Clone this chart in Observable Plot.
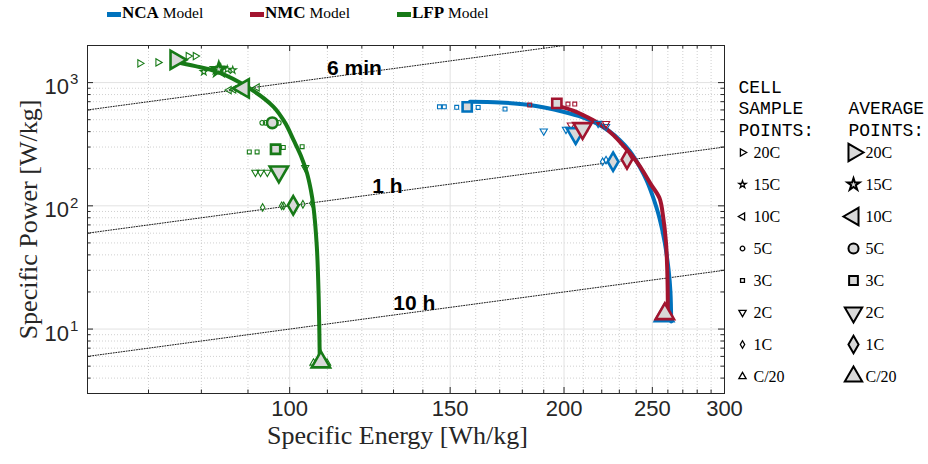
<!DOCTYPE html>
<html>
<head>
<meta charset="utf-8">
<script src="https://cdn.jsdelivr.net/npm/d3@7"></script>
<script src="https://cdn.jsdelivr.net/npm/@observablehq/plot@0.6"></script>
<style>
  body { margin: 0; background: #fff; }
  #wrap { position: relative; width: 928px; height: 464px; overflow: hidden; }
  #toplegend { position: relative; height: 30px; font-family: "Liberation Serif", "Times New Roman", serif; color: #000; }
  .sw { position: absolute; top: 11.5px; width: 14px; height: 5px; }
  .lab { position: absolute; top: 3px; line-height: 20px; white-space: nowrap; }
  .lab b { font-size: 17px; }
  .lab span { font-size: 15.5px; }
  #side { position: absolute; left: 725px; top: 0; }
</style>
</head>
<body>
<div id="wrap">
  <div id="toplegend"></div>
  <div id="main"></div>
  <div id="side"></div>
</div>
<script>
// ---------- categories ----------
const models = ["NCA", "NMC", "LFP"];
const modelColors = ["#0072BD", "#A2142F", "#177A17"];
const legendLeft = [107, 250, 397];

const rates = ["20C", "15C", "10C", "5C", "3C", "2C", "1C", "C/20"];
const rateSymbols = ["triangle", "star", "triangle", "circle", "square", "triangle", "diamond", "triangle"];
const rateRotate = [90, 0, -90, 0, 0, 180, 0, 0];
const sampleR = [2.7, 2.3, 2.7, 2.3, 2.2, 2.7, 2.3, 2.7];
const averageR = [6.8, 4.0, 6.8, 5.3, 5.2, 6.8, 5.6, 6.8];

// ---------- ticks ----------
const xMajor = [100, 150, 200, 250, 300];
const xMinor = [60, 70, 80, 90, 110, 120, 130, 140, 160, 170, 180, 190, 210, 220, 230, 240, 260, 270, 280, 290];
const yMajorExp = [1, 2, 3];
const yMinor = [3, 4, 5, 6, 7, 8, 9, 20, 30, 40, 50, 60, 70, 80, 90, 200, 300, 400, 500, 600, 700, 800, 900, 2000];

// ---------- constant-time lines ----------
const timeLabels = ["6 min", "1 h", "10 h"];
const timeHours = [0.1, 1, 10];
const timeLineE = [60, 300];
const timeLabelE = [109.9, 123.2, 129.9];
const timeLabelP = [1300, 144, 16.2];

// ---------- model curves (E [Wh/kg], P [W/kg]) ----------
const ncaModelE = [157.7, 170, 183.4, 199.6, 210, 217.2, 224, 230.3, 236, 242.2, 246.5, 250.4, 254.5, 258, 260.5, 261.7, 262.2];
const ncaModelP = [699, 690, 657, 580, 520, 466, 405, 341, 280, 207, 160, 118, 80, 50, 30, 20, 11.5];
const nmcModelE = [196.4, 205, 211.7, 220, 226.6, 233, 238, 242.5, 249, 254.6, 257, 258.8, 259.6, 259.9, 260];
const nmcModelP = [650, 590, 528, 450, 375, 300, 250, 207, 150, 115, 80, 50, 30, 20, 14];
const lfpModelE = [74.6, 78.8, 83.3, 89.8, 96.0, 98.9, 101.0, 102.9, 104.5, 105.5, 106.2, 107.1, 107.6, 107.9];
const lfpModelP = [1475, 1361, 1224, 925, 636, 469, 341, 254, 183, 134, 98, 46.5, 18.3, 5.6];

// ---------- cell sample points ----------
const ncaSampleRate = ["3C", "3C", "3C", "3C", "3C", "2C", "2C", "2C", "2C", "1C", "1C"];
const ncaSampleE = [146, 147.8, 152.5, 161, 172.3, 190, 201, 218, 222.4, 220.5, 222.4];
const ncaSampleP = [636, 636, 630, 629, 610, 404, 417, 466, 440, 228, 235];

const nmcSampleRate = ["3C", "3C", "3C", "2C", "2C", "2C", "1C"];
const nmcSampleE = [183.4, 202, 205.5, 203.5, 208, 222.4, 226.4];
const nmcSampleP = [657, 669, 669, 452, 440, 465, 238];

const lfpSampleRate = ["20C", "20C", "20C", "20C", "15C", "15C", "15C", "15C", "15C", "10C", "10C", "10C",
  "5C", "5C", "5C", "3C", "3C", "3C", "3C", "2C", "2C", "2C", "2C", "1C", "1C", "1C", "1C", "1C", "C/20", "C/20"];
const lfpSampleE = [68.5, 71.7, 77.4, 78.8, 80.5, 82.9, 84, 85.4, 86.6, 85.8, 86.8, 92.1,
  93.3, 94.1, 97.3, 90.3, 92.1, 98.4, 103.2, 91.7, 92.9, 94.5, 104, 93.4, 98, 98.5, 103.4, 105.8, 106.2, 109.9];
const lfpSampleP = [1432, 1458, 1640, 1640, 1224, 1247, 1330, 1280, 1263, 869, 880, 914,
  472, 472, 472, 274, 274, 298, 302, 187, 187, 187, 204, 97, 100, 100, 103, 105, 5.3, 5.3];

// ---------- average points ----------
const ncaAvgRate = ["3C", "2C", "1C", "C/20"];
const ncaAvgE = [156.6, 206, 226.4, 257.5];
const ncaAvgP = [636, 387, 228, 12.8];
const nmcAvgRate = ["3C", "2C", "1C", "C/20"];
const nmcAvgE = [196.4, 209.6, 234.5, 258];
const nmcAvgP = [678, 425, 238, 13.3];
const lfpAvgRate = ["20C", "15C", "10C", "5C", "3C", "2C", "1C", "C/20"];
const lfpAvgE = [75, 83.6, 89, 95.7, 96.5, 97.3, 100.9, 108.2];
const lfpAvgP = [1531, 1280, 897, 472, 288, 189, 101, 5.4];

// ---------- build tables ----------
const symbolMap = {triangle: d3.symbolTriangle, star: d3.symbolStar, circle: d3.symbolCircle, square: d3.symbolSquare, diamond: d3.symbolDiamond};
const rateIndex = r => rates.indexOf(r);

const modelE = [ncaModelE, nmcModelE, lfpModelE];
const modelP = [ncaModelP, nmcModelP, lfpModelP];
const curves = models.flatMap((m, i) => modelE[i].map((e, j) => ({model: m, E: e, P: modelP[i][j]})));

function pts(model, rateArr, eArr, pArr, rArr) {
  return rateArr.map((r, j) => {
    const k = rateIndex(r);
    return {model, rate: r, E: eArr[j], P: pArr[j], symbol: symbolMap[rateSymbols[k]], rotate: rateRotate[k], r: rArr[k]};
  });
}
const samples = [
  ...pts("NCA", ncaSampleRate, ncaSampleE, ncaSampleP, sampleR),
  ...pts("NMC", nmcSampleRate, nmcSampleE, nmcSampleP, sampleR),
  ...pts("LFP", lfpSampleRate, lfpSampleE, lfpSampleP, sampleR)
];
const averages = [
  ...pts("NCA", ncaAvgRate, ncaAvgE, ncaAvgP, averageR),
  ...pts("NMC", nmcAvgRate, nmcAvgE, nmcAvgP, averageR),
  ...pts("LFP", lfpAvgRate, lfpAvgE, lfpAvgP, averageR)
];
const timeLines = timeLabels.flatMap((l, i) => timeLineE.map(e => ({label: l, E: e, P: e / timeHours[i]})));
const timeText = timeLabels.map((l, i) => ({label: l, E: timeLabelE[i], P: timeLabelP[i]}));

// ---------- top legend (HTML) ----------
const topLegend = document.getElementById("toplegend");
models.forEach((m, i) => {
  const sw = document.createElement("div");
  sw.className = "sw";
  sw.style.left = legendLeft[i] + "px";
  sw.style.background = modelColors[i];
  topLegend.appendChild(sw);
  const lab = document.createElement("div");
  lab.className = "lab";
  lab.style.left = (legendLeft[i] + 15) + "px";
  lab.innerHTML = `<b>${m}</b><span> Model</span>`;
  topLegend.appendChild(lab);
});

// ---------- main plot ----------
const W = 928, H = 434, mT = 15, mR = 204, mB = 71, mL = 87;
const fW = W - mL - mR, fH = H - mT - mB;
const axisColor = "#262626";
const sans = "'Liberation Sans', Arial, Helvetica, sans-serif";
const serif = "'Liberation Serif', 'Times New Roman', serif";

const mainPlot = Plot.plot({
  width: W, height: H,
  marginTop: mT, marginRight: mR, marginBottom: mB, marginLeft: mL,
  x: {type: "log", domain: [60, 300], axis: null},
  y: {type: "log", domain: [3, 2000], axis: null},
  r: {type: "identity"},
  color: {domain: models, range: modelColors},
  style: {fontFamily: sans, background: "transparent", overflow: "visible"},
  marks: [
    Plot.ruleX(xMinor, {x: d => d, stroke: "#c4c4c4", strokeWidth: 0.8, strokeDasharray: "1,2"}),
    Plot.ruleY(yMinor, {y: d => d, stroke: "#c4c4c4", strokeWidth: 0.8, strokeDasharray: "1,2"}),
    Plot.ruleX(xMajor, {x: d => d, stroke: "#e2e2e2", strokeWidth: 1}),
    Plot.ruleY(yMajorExp, {y: d => 10 ** d, stroke: "#e2e2e2", strokeWidth: 1}),
    Plot.line(timeLines, {x: "E", y: "P", z: "label", stroke: "#000", strokeWidth: 0.9, strokeDasharray: "1,1.6", clip: true}),
    Plot.text(timeText, {x: "E", y: "P", text: "label", textAnchor: "start", fontSize: 21, fontWeight: "bold", fill: "#000"}),
    Plot.line(curves, {x: "E", y: "P", z: "model", stroke: "model", strokeWidth: 4, curve: "catmull-rom"}),
    Plot.dot(samples, {x: "E", y: "P", symbol: "symbol", rotate: "rotate", r: "r", stroke: "model", fill: "none", strokeWidth: 1.1}),
    Plot.dot(averages, {x: "E", y: "P", symbol: "symbol", rotate: "rotate", r: "r", stroke: "model", fill: "#d9d9d9", strokeWidth: 2.6}),
    Plot.frame({stroke: axisColor, strokeWidth: 1}),
    Plot.tickX(xMajor, {x: d => d, insetTop: fH - 6, stroke: axisColor}),
    Plot.tickX(xMajor, {x: d => d, insetBottom: fH - 6, stroke: axisColor}),
    Plot.tickX(xMinor, {x: d => d, insetTop: fH - 3.5, stroke: axisColor}),
    Plot.tickX(xMinor, {x: d => d, insetBottom: fH - 3.5, stroke: axisColor}),
    Plot.tickY(yMajorExp, {y: d => 10 ** d, insetRight: fW - 6, stroke: axisColor}),
    Plot.tickY(yMajorExp, {y: d => 10 ** d, insetLeft: fW - 6, stroke: axisColor}),
    Plot.tickY(yMinor, {y: d => d, insetRight: fW - 3.5, stroke: axisColor}),
    Plot.tickY(yMinor, {y: d => d, insetLeft: fW - 3.5, stroke: axisColor}),
    Plot.text(xMajor, {x: d => d, text: d => String(d), frameAnchor: "bottom", dy: 22, fontSize: 22, fill: "#262626"}),
    Plot.text(yMajorExp, {y: d => 10 ** d, text: () => "10", frameAnchor: "left", textAnchor: "end", dx: -18.5, dy: 4.5, fontSize: 22, fill: "#262626"}),
    Plot.text(yMajorExp, {y: d => 10 ** d, text: d => String(d), frameAnchor: "left", textAnchor: "start", dx: -17.5, dy: -3, fontSize: 15, fill: "#262626"}),
    Plot.text(["Specific Energy [Wh/kg]"], {frameAnchor: "bottom", textAnchor: "middle", dx: -8.5, dy: 50, fontSize: 26, fontFamily: serif, fill: "#262626"}),
    Plot.text(["Specific Power [W/kg]"], {frameAnchor: "left", textAnchor: "middle", dx: -59, rotate: -90, fontSize: 26, fontFamily: serif, fill: "#262626"})
  ]
});
document.getElementById("main").appendChild(mainPlot);

// ---------- side legend ----------
const legRows = rates.map((r, k) => ({rate: r, symbol: symbolMap[rateSymbols[k]], rotate: rateRotate[k], rs: sampleR[k], ra: averageR[k] * 0.95}));
const sidePlot = Plot.plot({
  width: 203, height: 464,
  marginTop: 0, marginRight: 0, marginBottom: 0, marginLeft: 0,
  x: {type: "point", domain: ["sample", "average"], range: [16.7, 128.3], padding: 0, axis: null},
  y: {type: "point", domain: rates, range: [150, 378.3], padding: 0, axis: null},
  r: {type: "identity"},
  style: {fontFamily: serif, background: "transparent", overflow: "visible"},
  marks: [
    Plot.dot(legRows, {x: () => "sample", y: "rate", symbol: "symbol", rotate: "rotate", r: "rs", stroke: "#000", fill: "none", strokeWidth: 1.3}),
    Plot.dot(legRows, {x: () => "average", y: "rate", symbol: "symbol", rotate: "rotate", r: "ra", stroke: "#000", fill: "#d9d9d9", strokeWidth: 2}),
    Plot.text(rates, {x: () => "sample", y: d => d, text: d => d, textAnchor: "start", dx: 11, fontSize: 16, fill: "#000"}),
    Plot.text(rates, {x: () => "average", y: d => d, text: d => d, textAnchor: "start", dx: 12, fontSize: 16, fill: "#000"}),
    Plot.text(["CELL\nSAMPLE\nPOINTS:"], {frameAnchor: "top-left", dx: 13, dy: 77, textAnchor: "start", lineAnchor: "top", lineHeight: 1.2, fontSize: 18, fontFamily: "'Liberation Mono', 'Courier New', monospace", fill: "#000"}),
    Plot.text(["AVERAGE\nPOINTS:"], {frameAnchor: "top-left", dx: 123, dy: 98.5, textAnchor: "start", lineAnchor: "top", lineHeight: 1.2, fontSize: 18, fontFamily: "'Liberation Mono', 'Courier New', monospace", fill: "#000"})
  ]
});
document.getElementById("side").appendChild(sidePlot);
</script>
</body>
</html>
